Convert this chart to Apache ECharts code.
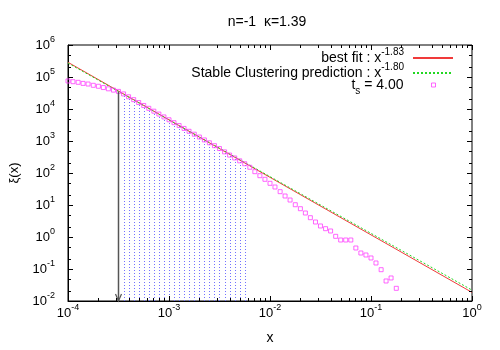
<!DOCTYPE html>
<html><head><meta charset="utf-8">
<script src="https://cdn.jsdelivr.net/npm/echarts@6/dist/echarts.min.js"></script>
<style>html,body{margin:0;padding:0;background:#fff}#c{width:500px;height:350px}</style>
</head><body><div id="c"></div>
<script>
// ---------------- data ----------------
const titleText = 'n=-1  κ=1.39';
const xAxisName = 'x';
const yAxisName = 'ξ(x)';
const xTickExponents = ['-4', '-3', '-2', '-1', '0'];
const yTickExponents = ['-2', '-1', '0', '1', '2', '3', '4', '5', '6'];
const xMinorMultipliers = [2, 3, 4, 5, 6, 7, 8, 9];
const yMinorMultipliers = [2, 5];

const pointsX = [
  1.00e-4, 1.12e-4, 1.26e-4, 1.41e-4, 1.58e-4, 1.78e-4, 2.00e-4, 2.24e-4, 2.51e-4, 2.82e-4,
  3.16e-4, 3.55e-4, 3.98e-4, 4.47e-4, 5.01e-4, 5.62e-4, 6.31e-4, 7.08e-4, 7.94e-4, 8.91e-4,
  1.00e-3, 1.12e-3, 1.26e-3, 1.41e-3, 1.58e-3, 1.78e-3, 2.00e-3, 2.24e-3, 2.51e-3, 2.82e-3,
  3.16e-3, 3.55e-3, 3.98e-3, 4.47e-3, 5.01e-3, 5.62e-3, 6.31e-3, 7.08e-3, 7.94e-3, 8.91e-3,
  1.00e-2, 1.12e-2, 1.26e-2, 1.41e-2, 1.58e-2, 1.78e-2, 2.00e-2, 2.24e-2, 2.51e-2, 2.82e-2,
  3.16e-2, 3.55e-2, 3.98e-2, 4.47e-2, 5.01e-2, 5.62e-2, 6.31e-2, 7.08e-2, 7.94e-2, 8.91e-2,
  0.100, 0.112, 0.126, 0.141, 0.158, 0.178
];
const pointsY = [
  75000, 71300, 68200, 63100, 60300, 55000, 51300, 46800, 42700, 38900,
  35500, 29600, 24100, 19600, 15900, 12900, 10500, 8550, 6950, 5650,
  4600, 3740, 3040, 2470, 2010, 1630, 1330, 1080, 879, 714,
  581, 457, 363, 295, 240, 195, 151, 110, 82.4, 63.5,
  47.6, 36.5, 26.1, 19.1, 14.3, 10.2, 7.66, 5.62, 4.01, 2.94,
  2.21, 1.82, 1.54, 1.05, 0.805, 0.805, 0.805, 0.453, 0.316, 0.274,
  0.221, 0.154, 0.0951, 0.0422, 0.0524, 0.0249
];
// range of points that carry dotted impulses (indices into pointsX / pointsY)
const impulseFirst = 11;
const impulseLast = 35;

const fitX = [1e-4, 1];
const fitY = [2.88e5, 0.0186];
const stableX = [1e-4, 1];
const stableY = [2.72e5, 0.0219];

const arrowX = 3.1e-4;
const arrowTop = 3.5e4;
const arrowBottom = 1e-2;

const legendNames = ['best fit', 'Stable Clustering prediction', 'ts'];
const legendTexts = [
  '{b|best fit : x}{sup|-1.83}{g|}',
  '{b|Stable Clustering prediction : x}{sup|-1.80}{g|}',
  '{b|t}{sub|s}{b| = 4.00}{g2|}'
];

// ---------------- chart ----------------
const FONT = '"Liberation Sans", Arial, sans-serif';
const X_MIN = 1e-4, X_MAX = 1, Y_MIN = 1e-2, Y_MAX = 1e6;

const tickRich = {
  b: { fontSize: 13, lineHeight: 20, fontFamily: FONT, color: '#000' },
  s: { fontSize: 9, lineHeight: 10, verticalAlign: 'top', fontFamily: FONT, color: '#000' }
};
const legendRich = {
  b: { fontSize: 14, lineHeight: 22, fontFamily: FONT, color: '#000' },
  sup: { fontSize: 10, lineHeight: 11, verticalAlign: 'top', fontFamily: FONT, color: '#000' },
  sub: { fontSize: 10, lineHeight: 11, verticalAlign: 'bottom', fontFamily: FONT, color: '#000' },
  g: { width: 4, fontSize: 4 },
  g2: { width: 23, fontSize: 4 }
};

function expLabel(list) {
  return function (v) {
    const e = String(Math.round(Math.log10(v)));
    const lab = list.indexOf(e) >= 0 ? list[list.indexOf(e)] : e;
    return '{b|10}{s|' + lab + '}';
  };
}

// tick data (style only)
const xTicks = [];
for (let i = 0; i < xTickExponents.length; i++) {
  const base = Math.pow(10, Number(xTickExponents[i]));
  xTicks.push([base, 5]);
  if (i < xTickExponents.length - 1) xMinorMultipliers.forEach(m => xTicks.push([m * base, 3]));
}
const yTicks = [];
for (let i = 0; i < yTickExponents.length; i++) {
  const base = Math.pow(10, Number(yTickExponents[i]));
  yTicks.push([1e-2, base, 5]);
  if (i < yTickExponents.length - 1) yMinorMultipliers.forEach(m => yTicks.push([1e-2, m * base, 3]));
}

const impulseData = [];
for (let i = impulseFirst; i <= impulseLast; i++) impulseData.push([pointsX[i], pointsY[i]]);

const RED = '#f03a3a', GREEN = '#22d822', MAGENTA = '#ff40ff', BLUE = '#7272ff';

const chart = echarts.init(document.getElementById('c'), null, { renderer: 'canvas' });
const option = {
  animation: false,
  backgroundColor: '#fff',
  textStyle: { fontFamily: FONT },
  grid: { left: 66, right: 28, top: 45, bottom: 49, show: true, borderColor: '#000', borderWidth: 1, backgroundColor: 'transparent' },
  graphic: [{
    type: 'text', x: 267, y: 22,
    style: { text: titleText, font: '14px ' + FONT, fill: '#000', align: 'center', verticalAlign: 'middle' }
  }],
  legend: [
    {
      data: [legendNames[0]], align: 'right', right: 46, top: 47, padding: 0,
      itemWidth: 40, itemHeight: 10, selectedMode: false,
      itemStyle: { opacity: 0, color: 'rgba(0,0,0,0)', borderWidth: 0 },
      formatter: () => legendTexts[0], textStyle: { rich: legendRich }
    },
    {
      data: [legendNames[1]], align: 'right', right: 46, top: 62, padding: 0,
      itemWidth: 40, itemHeight: 10, selectedMode: false,
      itemStyle: { opacity: 0, color: 'rgba(0,0,0,0)', borderWidth: 0 },
      formatter: () => legendTexts[1], textStyle: { rich: legendRich }
    },
    {
      data: [legendNames[2]], align: 'right', right: 64, top: 78, padding: 0,
      itemWidth: 4, itemHeight: 4, icon: 'rect', selectedMode: false,
      itemStyle: { color: 'rgba(0,0,0,0)', borderColor: MAGENTA, borderWidth: 1 },
      formatter: () => legendTexts[2], textStyle: { rich: legendRich }
    }
  ],
  xAxis: {
    type: 'log', logBase: 10, min: X_MIN, max: X_MAX, splitNumber: 4,
    axisLine: { show: true, lineStyle: { color: '#000', width: 1 } },
    axisTick: { show: false }, splitLine: { show: false },
    axisLabel: { formatter: expLabel(xTickExponents), rich: tickRich, margin: 2, showMinLabel: true, showMaxLabel: true },
    name: xAxisName, nameLocation: 'middle', nameGap: 30,
    nameTextStyle: { fontSize: 14, fontFamily: FONT, color: '#000' }
  },
  yAxis: {
    type: 'log', logBase: 10, min: Y_MIN, max: Y_MAX, splitNumber: 8,
    axisLine: { show: true, lineStyle: { color: '#000', width: 1 } },
    axisTick: { show: false }, splitLine: { show: false },
    axisLabel: { formatter: expLabel(yTickExponents), rich: tickRich, margin: 13, showMinLabel: true, showMaxLabel: true },
    name: yAxisName, nameLocation: 'middle', nameGap: 47, nameRotate: 90,
    nameTextStyle: { fontSize: 13, fontFamily: FONT, color: '#000' }
  },
  series: [
    {
      type: 'custom', name: 'impulses', silent: true, z: 1,
      renderItem: function (params, api) {
        const p1 = api.coord([api.value(0), api.value(1)]);
        const p0 = api.coord([api.value(0), Y_MIN]);
        const x = Math.round(p1[0]) + 0.5;
        return { type: 'line', shape: { x1: x, y1: p0[1], x2: x, y2: p1[1] },
          style: { stroke: BLUE, lineWidth: 1, lineDash: [1, 2] } };
      },
      data: impulseData
    },
    {
      type: 'line', name: legendNames[0], z: 3, symbol: 'none', showSymbol: false,
      lineStyle: { color: RED, width: 1 }, itemStyle: { color: RED },
      data: fitX.map((x, i) => [x, fitY[i]])
    },
    {
      type: 'line', name: legendNames[1], z: 3, symbol: 'none', showSymbol: false,
      lineStyle: { color: GREEN, width: 1, type: [2, 2] }, itemStyle: { color: GREEN },
      data: stableX.map((x, i) => [x, stableY[i]])
    },
    {
      type: 'scatter', name: legendNames[2], z: 4, symbol: 'rect', symbolSize: 4,
      itemStyle: { color: 'rgba(0,0,0,0)', borderColor: MAGENTA, borderWidth: 1 },
      data: pointsX.map((x, i) => [x, pointsY[i]])
    },
    {
      type: 'custom', name: 'arrow', silent: true, z: 5,
      renderItem: function (params, api) {
        const top = api.coord([api.value(0), api.value(1)]);
        const bot = api.coord([api.value(0), api.value(2)]);
        const x = Math.round(top[0]) + 0.5;
        return { type: 'group', children: [
          { type: 'line', shape: { x1: x, y1: top[1], x2: x, y2: bot[1] }, style: { stroke: '#555', lineWidth: 1.5 } },
          { type: 'polyline', shape: { points: [[x - 3, bot[1] - 7], [x, bot[1]], [x + 3, bot[1] - 7]] },
            style: { stroke: '#555', fill: null, lineWidth: 1.2 } }
        ] };
      },
      data: [[arrowX, arrowTop, arrowBottom]]
    },
    {
      type: 'custom', name: 'xticks', silent: true, z: 6,
      renderItem: function (params, api) {
        const cs = params.coordSys;
        const len = api.value(1);
        const x = Math.round(api.coord([api.value(0), 1])[0]) + 0.5;
        const yb = cs.y + cs.height, yt = cs.y;
        return { type: 'group', children: [
          { type: 'line', shape: { x1: x, y1: yb, x2: x, y2: yb - len }, style: { stroke: '#000', lineWidth: 1 } },
          { type: 'line', shape: { x1: x, y1: yt, x2: x, y2: yt + len }, style: { stroke: '#000', lineWidth: 1 } }
        ] };
      },
      data: xTicks
    },
    {
      type: 'custom', name: 'yticks', silent: true, z: 6,
      renderItem: function (params, api) {
        const cs = params.coordSys;
        const len = api.value(2);
        const y = Math.round(api.coord([1e-2, api.value(1)])[1]) + 0.5;
        const xl = cs.x, xr = cs.x + cs.width;
        return { type: 'group', children: [
          { type: 'line', shape: { x1: xl, y1: y, x2: xl + len, y2: y }, style: { stroke: '#000', lineWidth: 1 } },
          { type: 'line', shape: { x1: xr, y1: y, x2: xr - len, y2: y }, style: { stroke: '#000', lineWidth: 1 } }
        ] };
      },
      data: yTicks
    }
  ]
};
chart.setOption(option);
</script>
</body></html>
